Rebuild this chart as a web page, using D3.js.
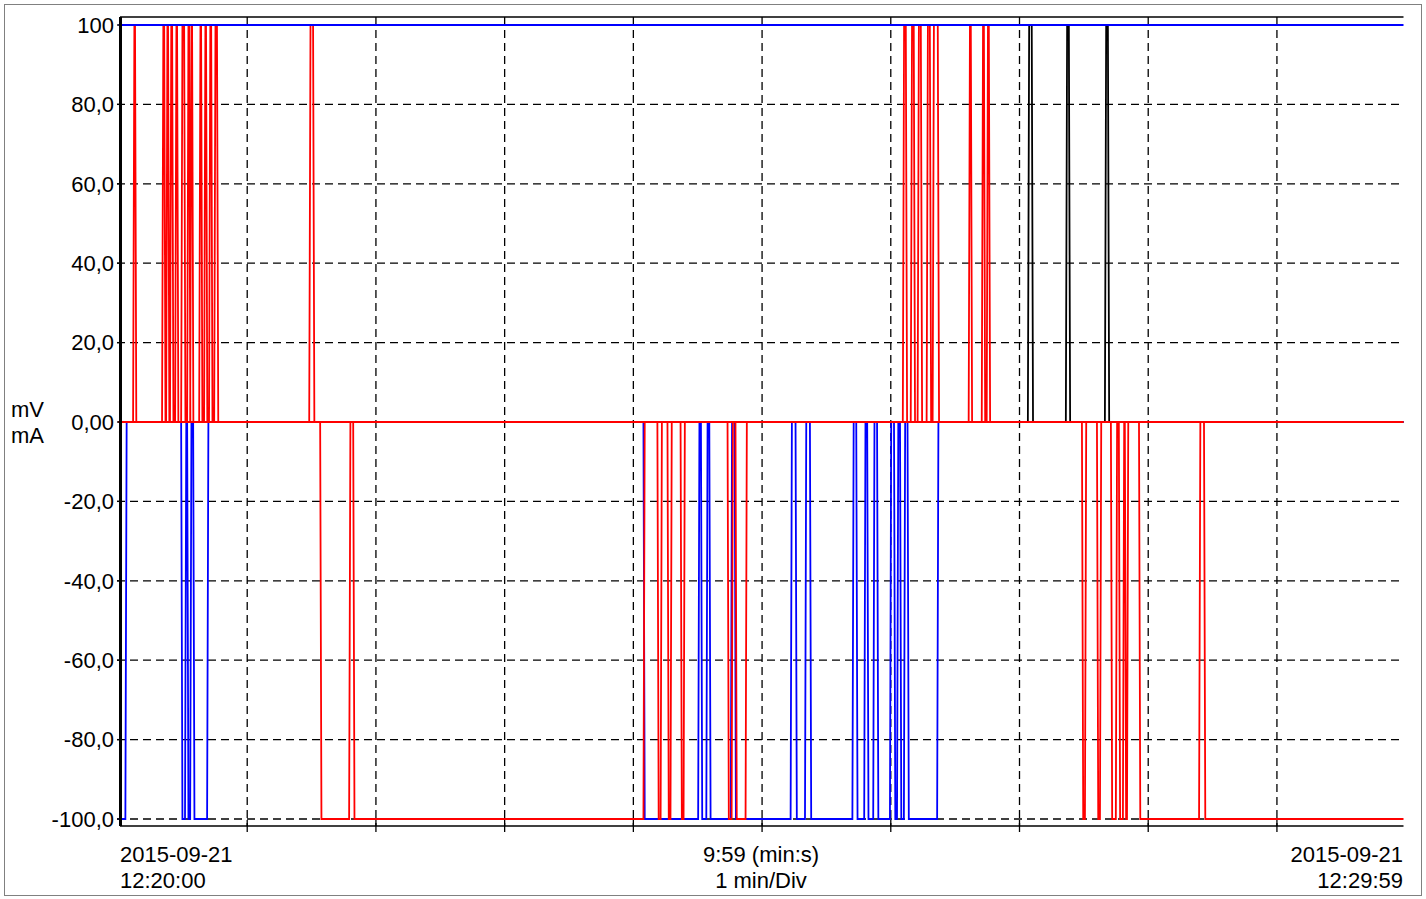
<!DOCTYPE html>
<html>
<head>
<meta charset="utf-8">
<script src="https://cdn.jsdelivr.net/npm/d3@7"></script>
<style>
  body { margin: 0; background: #fff; }
  text { font-family: "Liberation Sans", Arial, sans-serif; fill: #000; }
</style>
</head>
<body>
<script>
// time in seconds from 12:20:00, values in mV / mA
const duration = 599;
const yTicks = [100, 80, 60, 40, 20, 0, -20, -40, -60, -80, -100];
const yTickLabels = ["100", "80,0", "60,0", "40,0", "20,0", "0,00", "-20,0", "-40,0", "-60,0", "-80,0", "-100,0"];
const xGridSeconds = [0, 60, 120, 180, 240, 300, 360, 420, 480, 540];

// pulses as [start, end] in seconds
const redUpPulses = [[6.8, 7.7], [20.3, 21.3], [22.2, 23.1], [24.0, 25.0], [26.4, 27.3], [29.2, 30.6],
  [32.0, 32.9], [33.4, 34.3], [37.6, 38.5], [39.9, 40.8], [42.2, 43.2], [44.6, 45.9], [88.9, 90.7],
  [365.6, 367.0], [369.3, 370.7], [372.5, 374.0], [376.7, 378.2], [379.5, 381.9], [396.3, 397.3],
  [402.4, 403.4], [404.7, 405.7]];
const redDownPulses = [[94.0, 107.5], [109.4, 244.7], [251.2, 252.7], [255.9, 257.3], [262.0, 263.4],
  [283.9, 285.8], [287.6, 292.3], [449.1, 450.5], [456.1, 457.5], [462.6, 464.9], [466.3, 468.2],
  [469.1, 470.1], [475.7, 503.7], [506.0, 599]];
const blueDownPulses = [[0, 3.2], [29.2, 31.0], [32.0, 33.4], [34.8, 41.3], [244.7, 270.2], [271.5, 274.0],
  [275.4, 285.4], [287.2, 313.3], [315.6, 320.0], [322.3, 342.1], [343.9, 347.6], [349.0, 351.8],
  [353.6, 359.6], [361.5, 362.9], [364.3, 366.1], [367.8, 381.6]];
const blackUpPulses = [[423.9, 425.7], [441.6, 443.0], [459.8, 461.2]];
const blueTopLevel = 100;

const W = 1426, H = 899;
const svg = d3.select("body").append("svg").attr("width", W).attr("height", H);

const x = d3.scaleLinear().domain([0, duration]).range([118.5, 1403.5]);
const y = d3.scaleLinear().domain([-100, 100]).range([819, 25]);
const plotTop = 17, plotBottom = 826;

// outer border
svg.append("rect").attr("x", 4.5).attr("y", 4.5).attr("width", 1417).attr("height", 891)
  .attr("fill", "none").attr("stroke", "#808080").attr("stroke-width", 1);

// grid
const grid = svg.append("g");
grid.selectAll(".hg").data(yTicks.filter(d => d !== 100 && d !== 0)).join("line")
  .attr("x1", 117).attr("x2", x(duration)).attr("y1", d => y(d)).attr("y2", d => y(d))
  .attr("stroke", "#000").attr("stroke-width", 1.3).attr("stroke-dasharray", "8,5");
grid.selectAll(".vg").data(xGridSeconds.slice(1)).join("line")
  .attr("x1", d => x(d)).attr("x2", d => x(d)).attr("y1", plotTop).attr("y2", plotBottom)
  .attr("stroke", "#000").attr("stroke-width", 1.3).attr("stroke-dasharray", "8,5");
// bottom ticks
grid.selectAll(".bt").data(xGridSeconds.slice(1)).join("line")
  .attr("x1", d => x(d)).attr("x2", d => x(d)).attr("y1", plotBottom - 6).attr("y2", plotBottom + 6)
  .attr("stroke", "#000").attr("stroke-width", 1.3);

// frame
svg.append("line").attr("x1", 120).attr("x2", x(duration)).attr("y1", plotTop).attr("y2", plotTop)
  .attr("stroke", "#000").attr("stroke-width", 1.3);
svg.append("line").attr("x1", 120).attr("x2", x(duration)).attr("y1", plotBottom).attr("y2", plotBottom)
  .attr("stroke", "#000").attr("stroke-width", 1.5);

function stepPoints(base, active, pulses) {
  const ramp = 0.6;
  const pts = [];
  if (pulses.length && pulses[0][0] === 0) pts.push([0, active]); else pts.push([0, base]);
  pulses.forEach(([a, b]) => {
    if (a > 0) { pts.push([a, base]); pts.push([a + ramp, active]); }
    if (b < duration) { pts.push([b, active]); pts.push([b + ramp, base]); }
    else pts.push([duration, active]);
  });
  if (pts[pts.length - 1][0] < duration) pts.push([duration, base]);
  return pts;
}

const line = d3.line().x(d => x(d[0])).y(d => y(d[1]));
const series = [
  { pts: stepPoints(0, 100, blackUpPulses), color: "#000" },
  { pts: stepPoints(0, -100, blueDownPulses), color: "#0000ff" },
  { pts: stepPoints(0, 100, redUpPulses), color: "#ff0000" },
  { pts: stepPoints(0, -100, redDownPulses), color: "#ff0000" },
  { pts: [[0, blueTopLevel], [duration, blueTopLevel]], color: "#0000ff" }
];
svg.append("g").selectAll("path").data(series).join("path")
  .attr("d", d => line(d.pts)).attr("fill", "none").attr("stroke", d => d.color)
  .attr("stroke-width", 1.8).attr("stroke-linejoin", "miter");

// left axis line
svg.append("line").attr("x1", 120.5).attr("x2", 120.5).attr("y1", plotTop).attr("y2", plotBottom)
  .attr("stroke", "#000").attr("stroke-width", 3);
svg.selectAll(".lt").data(yTicks).join("line")
  .attr("x1", 117).attr("x2", 121).attr("y1", d => y(d)).attr("y2", d => y(d))
  .attr("stroke", "#000").attr("stroke-width", 1.3);

// y labels
svg.selectAll(".yl").data(yTicks).join("text")
  .attr("x", 114).attr("y", d => y(d)).attr("dy", "0.35em").attr("text-anchor", "end")
  .attr("font-size", 22).text((d, i) => yTickLabels[i]);
svg.append("text").attr("x", 11).attr("y", 417).attr("font-size", 22).text("mV");
svg.append("text").attr("x", 11).attr("y", 443).attr("font-size", 22).text("mA");

// x labels
const bl = [
  { x: 120, a: "start", t1: "2015-09-21", t2: "12:20:00" },
  { x: x(duration / 2), a: "middle", t1: "9:59 (min:s)", t2: "1 min/Div" },
  { x: 1403, a: "end", t1: "2015-09-21", t2: "12:29:59" }
];
bl.forEach(b => {
  svg.append("text").attr("x", b.x).attr("y", 862).attr("text-anchor", b.a).attr("font-size", 22).text(b.t1);
  svg.append("text").attr("x", b.x).attr("y", 888).attr("text-anchor", b.a).attr("font-size", 22).text(b.t2);
});
</script>
</body>
</html>
